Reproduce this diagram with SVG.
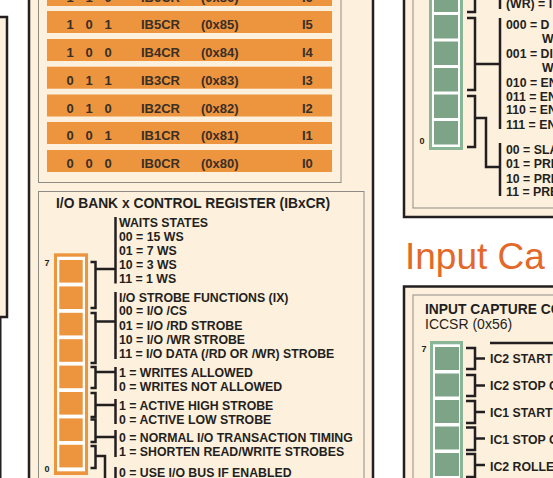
<svg xmlns="http://www.w3.org/2000/svg" width="553" height="478" viewBox="0 0 553 478">
<style>
.bg{fill:#ffffff}
.outer{fill:#fdf0dd;stroke:#231f20;stroke-width:2.5}
.inner{fill:#fdf0dd;stroke:#8f8c88;stroke-width:1}
.row{fill:#ec953e}
.rt{font-family:"Liberation Sans",Arial,sans-serif;font-weight:bold;font-size:13px;fill:#3a2e26}
.bt{font-family:"Liberation Sans",Arial,sans-serif;font-weight:bold;font-size:12.3px;fill:#231f20}
.ttl{font-family:"Liberation Sans",Arial,sans-serif;font-weight:bold;font-size:13.8px;fill:#231f20}
.reg{font-family:"Liberation Sans",Arial,sans-serif;font-size:14px;fill:#231f20}
.num{font-family:"Liberation Sans",Arial,sans-serif;font-weight:bold;font-size:9px;fill:#231f20;text-anchor:middle}
.head{font-family:"Liberation Sans",Arial,sans-serif;font-size:37px;fill:#e3692a}
.ofr{fill:#ec953e}
.gfr{fill:#8ab597}
.wh{fill:#ffffff}
.oc{fill:#ec953e}
.gc{fill:#7ea487}
.ln{fill:none;stroke:#231f20;stroke-width:2.5}
.mid{text-anchor:middle}
</style>
<rect class="bg" x="0" y="0" width="553" height="478"/>

<g id="left-panel">
<rect class="outer" x="-10" y="17" width="17" height="300"/>
<line x1="0.5" y1="317" x2="0.5" y2="480" stroke="#231f20" stroke-width="2"/>
</g>

<g id="io-bank-panel">
<rect class="outer" x="29" y="-10" width="344" height="500"/>
</g>

<g id="ibcr-table">
<rect class="inner" x="38.5" y="-10" width="302.5" height="192.5"/>
<rect class="row" x="47" y="-16" width="285" height="22"/>
<rect class="row" x="47" y="11" width="285" height="22"/>
<rect class="row" x="47" y="39" width="285" height="22"/>
<rect class="row" x="47" y="66.7" width="285" height="22"/>
<rect class="row" x="47" y="94.5" width="285" height="22"/>
<rect class="row" x="47" y="122" width="285" height="22"/>
<rect class="row" x="47" y="150" width="285" height="22"/>
<g class="rt">
<text x="70" y="2" class="mid">1</text><text x="89" y="2" class="mid">1</text><text x="108" y="2" class="mid">0</text><text x="141" y="2">IB6CR</text><text x="201" y="2">(0x86)</text><text x="302" y="2">I6</text>
<text x="70" y="29.3" class="mid">1</text><text x="89" y="29.3" class="mid">0</text><text x="108" y="29.3" class="mid">1</text><text x="141" y="29.3">IB5CR</text><text x="201" y="29.3">(0x85)</text><text x="302" y="29.3">I5</text>
<text x="70" y="57.3" class="mid">1</text><text x="89" y="57.3" class="mid">0</text><text x="108" y="57.3" class="mid">0</text><text x="141" y="57.3">IB4CR</text><text x="201" y="57.3">(0x84)</text><text x="302" y="57.3">I4</text>
<text x="70" y="85" class="mid">0</text><text x="89" y="85" class="mid">1</text><text x="108" y="85" class="mid">1</text><text x="141" y="85">IB3CR</text><text x="201" y="85">(0x83)</text><text x="302" y="85">I3</text>
<text x="70" y="112.8" class="mid">0</text><text x="89" y="112.8" class="mid">1</text><text x="108" y="112.8" class="mid">0</text><text x="141" y="112.8">IB2CR</text><text x="201" y="112.8">(0x82)</text><text x="302" y="112.8">I2</text>
<text x="70" y="140.3" class="mid">0</text><text x="89" y="140.3" class="mid">0</text><text x="108" y="140.3" class="mid">1</text><text x="141" y="140.3">IB1CR</text><text x="201" y="140.3">(0x81)</text><text x="302" y="140.3">I1</text>
<text x="70" y="168.3" class="mid">0</text><text x="89" y="168.3" class="mid">0</text><text x="108" y="168.3" class="mid">0</text><text x="141" y="168.3">IB0CR</text><text x="201" y="168.3">(0x80)</text><text x="302" y="168.3">I0</text>
</g>
</g>

<g id="ibxcr-register">
<rect class="inner" x="38.5" y="191.5" width="325.5" height="300"/>
<text class="ttl" x="56" y="208">I/O BANK x CONTROL REGISTER (IBxCR)</text>
<rect class="ofr" x="54" y="253.3" width="34" height="221.7"/>
<rect class="wh" x="57" y="256.7" width="28" height="214.6"/>
<rect class="oc" x="59.3" y="260" width="23.4" height="22.6"/>
<rect class="oc" x="59.3" y="286.4" width="23.4" height="22.6"/>
<rect class="oc" x="59.3" y="312.8" width="23.4" height="22.6"/>
<rect class="oc" x="59.3" y="339.2" width="23.4" height="22.6"/>
<rect class="oc" x="59.3" y="365.6" width="23.4" height="22.6"/>
<rect class="oc" x="59.3" y="392" width="23.4" height="22.6"/>
<rect class="oc" x="59.3" y="418.4" width="23.4" height="22.6"/>
<rect class="oc" x="59.3" y="444.8" width="23.4" height="22.6"/>
<text class="num" x="47" y="266">7</text>
<text class="num" x="47" y="472">0</text>
<g class="bt">
<text x="119" y="226.7">WAITS STATES</text>
<text x="119" y="241">00 = 15 WS</text>
<text x="119" y="255">01 = 7 WS</text>
<text x="119" y="269.3">10 = 3 WS</text>
<text x="119" y="283.3">11 = 1 WS</text>
<text x="119" y="301.7">I/O STROBE FUNCTIONS (IX)</text>
<text x="119" y="315.3">00 = I/O /CS</text>
<text x="119" y="330">01 = I/O /RD STROBE</text>
<text x="119" y="344">10 = I/O /WR STROBE</text>
<text x="119" y="358.3">11 = I/O DATA (/RD OR /WR) STROBE</text>
<text x="119" y="376.7">1 = WRITES ALLOWED</text>
<text x="119" y="390.7">0 = WRITES NOT ALLOWED</text>
<text x="119" y="410">1 = ACTIVE HIGH STROBE</text>
<text x="119" y="424">0 = ACTIVE LOW STROBE</text>
<text x="119" y="441.7">0 = NORMAL I/O TRANSACTION TIMING</text>
<text x="119" y="455.7">1 = SHORTEN READ/WRITE STROBES</text>
<text x="119" y="476.7">0 = USE I/O BUS IF ENABLED</text>
</g>
</g>

<g id="top-right-panel">
<rect class="outer" x="404" y="-10" width="200" height="227"/>
<rect class="inner" x="413" y="-10" width="200" height="218"/>
<rect class="gfr" x="429" y="-20" width="34" height="170"/>
<rect class="wh" x="432" y="-20" width="28" height="167"/>
<rect class="gc" x="434" y="-11.5" width="24" height="23.5"/>
<rect class="gc" x="434" y="15" width="24" height="23.5"/>
<rect class="gc" x="434" y="41.5" width="24" height="23.5"/>
<rect class="gc" x="434" y="68" width="24" height="23.5"/>
<rect class="gc" x="434" y="94.5" width="24" height="23.5"/>
<rect class="gc" x="434" y="121" width="24" height="23.5"/>
<text class="num" x="422" y="144">0</text>
<g class="bt">
<text x="506" y="8">(WR) = I</text>
<text x="506" y="29.3">000 = D</text>
<text x="542" y="43">W</text>
<text x="506" y="58">001 = DI</text>
<text x="542" y="72">W</text>
<text x="506" y="87">010 = EN</text>
<text x="506" y="100.5">011 = EN</text>
<text x="506" y="114">110 = EN</text>
<text x="506" y="129">111 = EN</text>
<text x="506" y="154">00 = SLA</text>
<text x="506" y="168">01 = PRE</text>
<text x="506" y="182.5">10 = PRE</text>
<text x="506" y="196">11 = PRE</text>
</g>
</g>

<g id="input-capture-heading">
<text class="head" x="405" y="269">Input Ca</text>
</g>

<g id="iccsr-panel">
<rect class="outer" x="404" y="286.5" width="200" height="250"/>
<rect class="inner" x="413" y="295" width="200" height="250"/>
<text class="ttl" x="425" y="314">INPUT CAPTURE CO</text>
<text class="reg" x="425" y="328.5">ICCSR (0x56)</text>
<rect class="gfr" x="430" y="341" width="33" height="150"/>
<rect class="wh" x="433" y="344.3" width="27" height="150"/>
<rect class="gc" x="435" y="347" width="24" height="23"/>
<rect class="gc" x="435" y="373.5" width="24" height="23"/>
<rect class="gc" x="435" y="400" width="24" height="23"/>
<rect class="gc" x="435" y="426.5" width="24" height="23"/>
<rect class="gc" x="435" y="453" width="24" height="23"/>
<text class="num" x="424" y="352">7</text>
<g class="bt">
<text x="490" y="363">IC2 START</text>
<text x="490" y="390">IC2 STOP C</text>
<text x="490" y="416.7">IC1 START</text>
<text x="490" y="443.5">IC1 STOP C</text>
<text x="490" y="470.5">IC2 ROLLE</text>
</g>
</g>

<g id="connectors" class="ln">
<path d="M90.5,262 H95.5 V308 H90.5 M95.5,269 H115.5"/>
<path d="M115.5,217 V283.5"/>
<path d="M90.5,313 H95.5 V363 H90.5 M95.5,321.5 H115.5"/>
<path d="M115.5,292 V359"/>
<path d="M90.5,367 H95.5 V388 H90.5 M95.5,372 H115.5"/>
<path d="M115.5,367 V391"/>
<path d="M90.5,393 H95.5 V417 H90.5 M95.5,405 H115.5"/>
<path d="M115.5,399 V424"/>
<path d="M90.5,419.5 H95.5 V442 H90.5 M95.5,437 H115.5"/>
<path d="M115.5,430 V457"/>
<path d="M90.5,446 H95.5 V468 H90.5 M95.5,456 H105 V480"/>
<path d="M115.5,467 V480"/>
<path d="M475,-5 V12 H467"/>
<path d="M500,-5 V9"/>
<path d="M467,18 H475 V90 H467 M475,64 H500"/>
<path d="M500,18 V129"/>
<path d="M467,96 H475 V147 H467 M475,118 H486 V167 H500"/>
<path d="M500,143 V196"/>
<path d="M490,343 H560"/>
<path d="M466,348 H475 V369 H466 M475,358.5 H485"/>
<path d="M466,375 H475 V396 H466 M475,385.5 H485"/>
<path d="M466,401 H475 V423 H466 M475,412 H485"/>
<path d="M466,427.5 H475 V450 H466 M475,438.5 H485"/>
<path d="M466,454 H475 V477 H466 M475,465 H485"/>
</g>
</svg>
